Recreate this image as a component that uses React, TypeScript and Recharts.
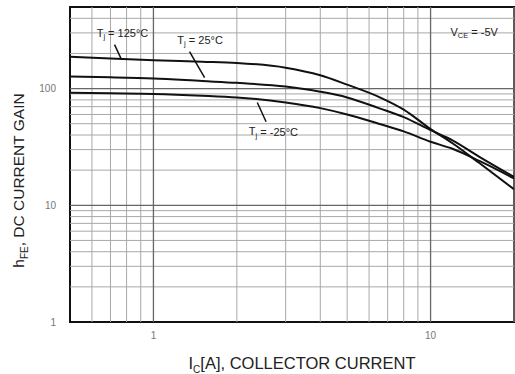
import React from 'react';
import {
  LineChart,
  Line,
  XAxis,
  YAxis,
  ReferenceLine,
  ReferenceArea,
  ReferenceDot,
} from 'recharts';

// collector current, A
const currents = [0.5, 0.7, 1, 1.5, 2, 3, 4, 5, 6.5, 8, 10, 12, 15, 20];
// DC current gain per junction temperature
const gain125 = [187, 181, 175, 170, 166, 151, 130, 108, 85, 66, 45, 34, 23, 13.7];
const gain25 = [127, 125, 122, 116, 112, 104, 94, 84, 68, 57, 44, 36, 26, 17.5];
const gainM25 = [92, 91, 90, 87, 84, 76, 68, 60, 50, 43, 35, 30.5, 24, 17];

const xTicks = [1, 10];
const yTicks = [1, 10, 100];
const xMajor = [1, 10];
const xMinor = [0.6, 0.7, 0.8, 0.9, 2, 3, 4, 5, 6, 7, 8, 9, 20];
const yMajor = [10, 100];
const yMinor = [2, 3, 4, 5, 6, 7, 8, 9, 20, 30, 40, 50, 60, 70, 80, 90, 200, 300, 400];

const data = currents.map((c, i) => ({
  current: c,
  t125: gain125[i],
  t25: gain25[i],
  tm25: gainM25[i],
}));

const FONT = '"Liberation Sans", Arial, sans-serif';

const AnnoText = (text: string, sub: string, rest: string) => (props: any) => {
  const { cx, cy } = props;
  return (
    <text x={cx} y={cy} fontFamily={FONT} fontSize={11} fill="#222" dominantBaseline="middle">
      {text}
      <tspan fontSize={7.5} dy={3}>{sub}</tspan>
      <tspan dy={-3}>{rest}</tspan>
    </text>
  );
};

const YLabel = (props: any) => {
  const { viewBox } = props;
  const cx = 24;
  const cy = viewBox.y + viewBox.height / 2 + 16;
  return (
    <text
      x={cx}
      y={cy}
      transform={`rotate(-90, ${cx}, ${cy})`}
      textAnchor="middle"
      fontFamily={FONT}
      fontSize={15.5}
      fill="#222"
    >
      h<tspan fontSize={10} dy={4}>FE</tspan>
      <tspan dy={-4}>, DC CURRENT GAIN</tspan>
    </text>
  );
};

const XLabel = (props: any) => {
  const { viewBox } = props;
  const cx = viewBox.x + viewBox.width / 2 + 10;
  return (
    <text x={cx} y={369} textAnchor="middle" fontFamily={FONT} fontSize={16.5} fill="#222">
      I<tspan fontSize={10} dy={4}>C</tspan>
      <tspan dy={-4}>[A], COLLECTOR CURRENT</tspan>
    </text>
  );
};

export default function App() {
  return (
    <div style={{ position: 'absolute', top: 0, left: 0, background: '#fff' }}>
      <LineChart width={515} height={374} data={data} margin={{ top: 7, right: 1, left: 0, bottom: 0 }}>
        <XAxis
          dataKey="current"
          type="number"
          scale="log"
          domain={[0.5, 20]}
          ticks={xTicks}
          allowDataOverflow
          axisLine={false}
          tickLine={false}
          height={52}
          tick={{ fill: '#777', fontSize: 10, fontFamily: FONT }}
          tickMargin={4}
          label={<XLabel />}
        />
        <YAxis
          type="number"
          scale="log"
          domain={[1, 500]}
          ticks={yTicks}
          allowDataOverflow
          axisLine={false}
          tickLine={false}
          width={70}
          tick={{ fill: '#777', fontSize: 10, fontFamily: FONT }}
          tickMargin={8}
          label={<YLabel />}
        />
        {xMinor.map((v) => (
          <ReferenceLine key={`xm${v}`} x={v} stroke="#a8a8a8" strokeWidth={1} />
        ))}
        {yMinor.map((v) => (
          <ReferenceLine key={`ym${v}`} y={v} stroke="#a8a8a8" strokeWidth={1} />
        ))}
        {xMajor.map((v) => (
          <ReferenceLine key={`xM${v}`} x={v} stroke="#666" strokeWidth={1.3} />
        ))}
        {yMajor.map((v) => (
          <ReferenceLine key={`yM${v}`} y={v} stroke="#666" strokeWidth={1.3} />
        ))}
        <ReferenceArea x1={0.5} x2={20} y1={1} y2={500} fill="none" stroke="#111" strokeWidth={2} />

        <Line type="monotone" dataKey="t125" stroke="#111" strokeWidth={2} dot={false} isAnimationActive={false} />
        <Line type="monotone" dataKey="t25" stroke="#111" strokeWidth={2} dot={false} isAnimationActive={false} />
        <Line type="monotone" dataKey="tm25" stroke="#111" strokeWidth={2} dot={false} isAnimationActive={false} />

        <ReferenceLine segment={[{ x: 0.724, y: 238 }, { x: 0.767, y: 177 }]} stroke="#111" strokeWidth={1.5} />
        <ReferenceLine segment={[{ x: 1.35, y: 207 }, { x: 1.53, y: 124 }]} stroke="#111" strokeWidth={1.5} />
        <ReferenceLine segment={[{ x: 2.37, y: 76 }, { x: 2.55, y: 52 }]} stroke="#111" strokeWidth={1.5} />

        <ReferenceDot x={0.624} y={295} r={0} shape={AnnoText('T', 'j', ' = 125°C')} />
        <ReferenceDot x={1.22} y={257} r={0} shape={AnnoText('T', 'j', ' = 25°C')} />
        <ReferenceDot x={2.21} y={42} r={0} shape={AnnoText('T', 'j', ' = -25°C')} />
        <ReferenceDot x={11.8} y={301} r={0} shape={AnnoText('V', 'CE', ' = -5V')} />
      </LineChart>
    </div>
  );
}
